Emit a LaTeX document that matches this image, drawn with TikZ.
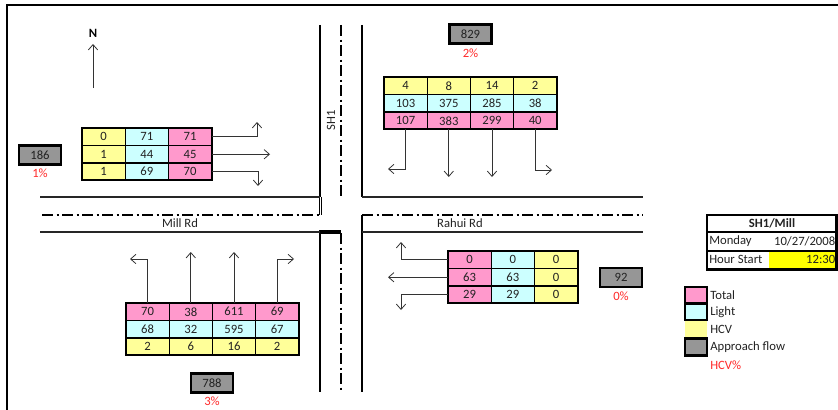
\documentclass[tikz,border=0pt]{standalone}
\usepackage{fontspec}
\setmainfont{Carlito}
\usetikzlibrary{arrows.meta}
\definecolor{pk}{HTML}{FF99CC}
\definecolor{cy}{HTML}{CCFFFF}
\definecolor{yl}{HTML}{FFFF99}
\definecolor{gr}{HTML}{969696}
\definecolor{rd}{HTML}{FF2A2A}
\definecolor{yb}{HTML}{FFFF00}
\definecolor{tx}{HTML}{222222}
\tikzset{
  cell/.style={draw=black, line width=0.9pt, minimum width=32.4pt, minimum height=13.1pt, inner sep=0pt, outer sep=0pt, text=tx},
  tblout/.style={draw=black, line width=1.5pt},
  appr/.style={draw=black, line width=1.9pt, fill=gr, minimum width=31.5pt, minimum height=14pt, inner sep=0pt, text=tx},
  pct/.style={text=rd, inner sep=0pt},
  arr/.style={draw=black!80, line width=0.6pt, -{Straight Barb[length=4pt,width=7pt]}},
  road/.style={draw=black, line width=1.1pt},
  roadh/.style={draw=black!85, line width=0.9pt},
  cline/.style={draw=black, line width=1.2pt, dash pattern=on 8.5pt off 2.5pt on 1.5pt off 2.5pt},
  sw/.style={minimum width=16.5pt, minimum height=12.5pt, inner sep=0pt},
  lbl/.style={anchor=west, inner sep=0pt, text=tx}
}
\begin{document}
\begin{tikzpicture}[x=0.75pt,y=-0.75pt,font=\fontsize{9.5}{11}\selectfont]
\useasboundingbox (0,0) rectangle (838,410);
% frame
\draw[line width=1pt] (7,410) -- (7,5) -- (838,5);
% north arrow
\node[inner sep=0pt,font=\fontsize{9.5}{11}\selectfont\bfseries] (north) at (93,33) {N};
\coordinate (nbase) at (93,88);
\draw[arr] (nbase) -- (north.south |- 0,44);
% roads - vertical SH1
\draw[road] (320,25) -- (320,197);
\draw[cline] (341,25) -- (341,197);
\draw[road] (362,25) -- (362,197);
\draw[line width=0.5pt] (319,197) -- (319,215) (321.5,197) -- (321.5,215);
\draw[draw=black, line width=2pt] (320,232) -- (320,392);
\draw[line width=2.4pt] (319,232) -- (341,232);
\draw[cline] (341,233) -- (341,392);
\draw[line width=2.2pt] (362,215) -- (362,232);
\draw[road] (362,232) -- (362,392);
% roads - horizontal
\draw[roadh] (40,197) -- (320,197);
\draw[cline] (42,215) -- (320,215);
\draw[roadh] (40,232) -- (320,232);
\draw[roadh] (362,197) -- (643,197);
\draw[cline] (362,215) -- (643,215);
\draw[roadh] (362,232) -- (643,232);
\node[inner sep=0pt,text=tx] (sh1) at (331,120) [rotate=90] {SH1};
\node[inner sep=0pt,text=tx] (mill) at (180,223.5) {Mill Rd};
\node[inner sep=0pt,text=tx] (rahui) at (460,223.5) {Rahui Rd};

% ---- West table
\node[cell,fill=yl] (w11) at (103.6,136.75) {0};
\node[cell,fill=cy] (w12) at (146.8,136.75) {71};
\node[cell,fill=pk] (w13) at (190,136.75) {71};
\node[cell,fill=yl] (w21) at (103.6,154.25) {1};
\node[cell,fill=cy] (w22) at (146.8,154.25) {44};
\node[cell,fill=pk] (w23) at (190,154.25) {45};
\node[cell,fill=yl] (w31) at (103.6,171.75) {1};
\node[cell,fill=cy] (w32) at (146.8,171.75) {69};
\node[cell,fill=pk] (w33) at (190,171.75) {70};
\draw[tblout] (w11.north west) rectangle (w33.south east);
\coordinate (wE1) at (257,122);
\coordinate (wE2) at (270,154.25);
\coordinate (wE3) at (258,186);
\draw[arr] (w13.east) -| (wE1);
\draw[arr] (w23.east) -- (wE2);
\draw[arr] (w33.east) -| (wE3);
\node[appr] (aw) at (40,155) {186};
\node[pct] (pw) at (40,173) {1\%};

% ---- North table
\node[cell,fill=yl] (n11) at (405.6,85.75) {4};
\node[cell,fill=yl] (n12) at (448.8,85.75) {8};
\node[cell,fill=yl] (n13) at (492,85.75) {14};
\node[cell,fill=yl] (n14) at (535.2,85.75) {2};
\node[cell,fill=cy] (n21) at (405.6,103.25) {103};
\node[cell,fill=cy] (n22) at (448.8,103.25) {375};
\node[cell,fill=cy] (n23) at (492,103.25) {285};
\node[cell,fill=cy] (n24) at (535.2,103.25) {38};
\node[cell,fill=pk] (n31) at (405.6,120.75) {107};
\node[cell,fill=pk] (n32) at (448.8,120.75) {383};
\node[cell,fill=pk] (n33) at (492,120.75) {299};
\node[cell,fill=pk] (n34) at (535.2,120.75) {40};
\draw[tblout] (n11.north west) rectangle (n34.south east);
\coordinate (nE1) at (388,169);
\coordinate (nE2) at (448.8,177);
\coordinate (nE3) at (492,177);
\coordinate (nE4) at (552,170);
\draw[arr] (n31.south) |- (nE1);
\draw[arr] (n32.south) -- (nE2);
\draw[arr] (n33.south) -- (nE3);
\draw[arr] (n34.south) |- (nE4);
\node[appr] (an) at (470.5,34) {829};
\node[pct] (pn) at (470.5,53) {2\%};

% ---- South table
\node[cell,fill=pk] (s11) at (147.6,311.75) {70};
\node[cell,fill=pk] (s12) at (190.8,311.75) {38};
\node[cell,fill=pk] (s13) at (234,311.75) {611};
\node[cell,fill=pk] (s14) at (277.2,311.75) {69};
\node[cell,fill=cy] (s21) at (147.6,329.25) {68};
\node[cell,fill=cy] (s22) at (190.8,329.25) {32};
\node[cell,fill=cy] (s23) at (234,329.25) {595};
\node[cell,fill=cy] (s24) at (277.2,329.25) {67};
\node[cell,fill=yl] (s31) at (147.6,346.75) {2};
\node[cell,fill=yl] (s32) at (190.8,346.75) {6};
\node[cell,fill=yl] (s33) at (234,346.75) {16};
\node[cell,fill=yl] (s34) at (277.2,346.75) {2};
\draw[tblout] (s11.north west) rectangle (s34.south east);
\coordinate (sE1) at (130,259);
\coordinate (sE2) at (190.8,252);
\coordinate (sE3) at (234,252);
\coordinate (sE4) at (294,259);
\draw[arr] (s11.north) |- (sE1);
\draw[arr] (s12.north) -- (sE2);
\draw[arr] (s13.north) -- (sE3);
\draw[arr] (s14.north) |- (sE4);
\node[appr] (as) at (212,383) {788};
\node[pct] (ps) at (212,401) {3\%};

% ---- East table
\node[cell,fill=pk] (e11) at (469.6,259.75) {0};
\node[cell,fill=cy] (e12) at (512.8,259.75) {0};
\node[cell,fill=yl] (e13) at (556,259.75) {0};
\node[cell,fill=pk] (e21) at (469.6,277.25) {63};
\node[cell,fill=cy] (e22) at (512.8,277.25) {63};
\node[cell,fill=yl] (e23) at (556,277.25) {0};
\node[cell,fill=pk] (e31) at (469.6,294.75) {29};
\node[cell,fill=cy] (e32) at (512.8,294.75) {29};
\node[cell,fill=yl] (e33) at (556,294.75) {0};
\draw[tblout] (e11.north west) rectangle (e33.south east);
\coordinate (eE1) at (401,242);
\coordinate (eE2) at (388,277.25);
\coordinate (eE3) at (401,310);
\draw[arr] (e11.west) -| (eE1);
\draw[arr] (e21.west) -- (eE2);
\draw[arr] (e31.west) -| (eE3);
\node[appr] (ae) at (621,277.5) {92};
\node[pct] (pe) at (621,296) {0\%};

% ---- Info box
\fill[yb] (769,250.5) rectangle (836.5,269);
\node[inner sep=0pt,font=\fontsize{9.5}{11}\selectfont\bfseries,text=tx] (ititle) at (772,223.5) {SH1/Mill};
\node[lbl] (iday) at (709,241) {Monday};
\node[anchor=east,inner sep=0pt,text=tx] (idate) at (835.5,241) {10/27/2008};
\node[lbl] (ihour) at (709,259.5) {Hour Start};
\node[anchor=east,inner sep=0pt,text=tx] (itime) at (835.5,259.5) {12:30};
\draw[line width=1pt] (707,232) -- (836.5,232);
\draw[line width=1.5pt] (707,250.5) -- (836.5,250.5);
\draw[line width=1.6pt] (707,215) rectangle (836.5,269.5);

% ---- Legend
\node[sw,fill=pk,draw=black,line width=1.3pt] (lgT) at (696,295) {};
\node[sw,fill=cy,draw=black,line width=1.3pt] (lgL) at (696,312) {};
\node[sw,fill=yl] (lgH) at (696,329) {};
\node[sw,fill=gr,draw=black,line width=1.8pt] (lgA) at (696,347) {};
\node[lbl] (tT) at (710,295.5) {Total};
\node[lbl] (tL) at (710,312.5) {Light};
\node[lbl] (tH) at (710,329) {HCV};
\node[lbl] (tA) at (710,347) {Approach flow};
\node[lbl,text=rd] (tP) at (710,365) {HCV\%};
\end{tikzpicture}
\end{document}
